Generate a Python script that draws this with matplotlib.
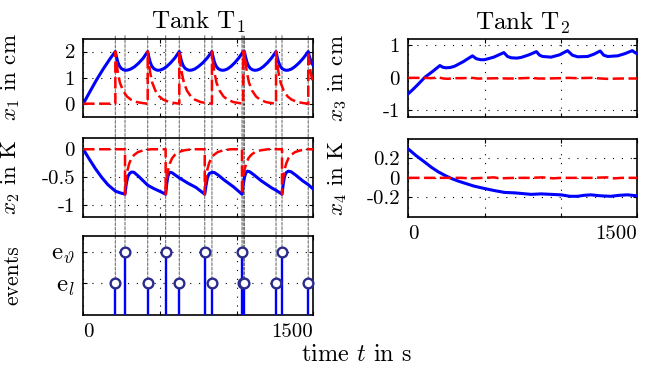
import matplotlib
matplotlib.use("Agg")
import matplotlib.pyplot as plt
from matplotlib.patches import ConnectionPatch

plt.rcParams['font.family'] = ['cmr10', 'DejaVu Serif']
plt.rcParams['mathtext.fontset'] = 'cm'
plt.rcParams['axes.unicode_minus'] = False
plt.rcParams['font.size'] = 15

# event times (s)
el_times = [209, 420, 626, 839, 1043, 1051, 1257, 1467]
eth_times = [272, 537, 792, 1035, 1296]

# tank 1, level x1 (blue) and its deviation (red)
x1_t = [0, 44, 87, 130, 174, 209,
        216, 225, 235, 248, 262, 275, 290, 310, 335, 360, 390, 420,
        427, 436, 446, 459, 473, 487, 502, 520, 545, 570, 598, 626,
        633, 642, 652, 665, 679, 693, 708, 727, 752, 778, 808, 839,
        846, 855, 865, 878, 892, 906, 921, 940, 963, 988, 1015, 1043, 1047, 1051,
        1058, 1067, 1077, 1090, 1104, 1118, 1133, 1152, 1176, 1201, 1229, 1257,
        1264, 1273, 1283, 1296, 1310, 1324, 1339, 1358, 1382, 1408, 1437, 1467,
        1474, 1485, 1500]
x1_v = [0, 0.47, 0.92, 1.33, 1.72, 2.0,
        1.80, 1.60, 1.45, 1.35, 1.30, 1.28, 1.29, 1.33, 1.42, 1.55, 1.74, 2.0,
        1.80, 1.60, 1.45, 1.35, 1.30, 1.28, 1.29, 1.33, 1.43, 1.57, 1.76, 2.0,
        1.80, 1.60, 1.45, 1.35, 1.30, 1.28, 1.29, 1.33, 1.43, 1.56, 1.75, 2.0,
        1.80, 1.60, 1.45, 1.35, 1.30, 1.28, 1.29, 1.33, 1.43, 1.57, 1.76, 2.0, 1.97, 2.0,
        1.80, 1.60, 1.45, 1.35, 1.30, 1.28, 1.29, 1.33, 1.43, 1.57, 1.76, 2.0,
        1.80, 1.60, 1.45, 1.35, 1.30, 1.28, 1.29, 1.33, 1.43, 1.57, 1.76, 2.0,
        1.82, 1.62, 1.46]

e1_t = [0, 209, 209, 215, 225, 239, 259, 284, 309, 349, 389, 420,
        420, 426, 436, 450, 470, 495, 520, 560, 600, 626,
        626, 632, 642, 656, 676, 701, 726, 766, 806, 839,
        839, 845, 855, 869, 889, 914, 939, 979, 1019, 1043,
        1043, 1047, 1051, 1051, 1057, 1067, 1081, 1101, 1126, 1151, 1191, 1231, 1257,
        1257, 1263, 1273, 1287, 1307, 1332, 1357, 1397, 1437, 1467,
        1467, 1473, 1483, 1497, 1500]
e1_v = [0, 0, 2.0, 1.65, 1.2, 0.8, 0.5, 0.28, 0.16, 0.06, 0.02, 0,
        2.0, 1.65, 1.2, 0.8, 0.5, 0.28, 0.16, 0.06, 0.02, 0,
        2.0, 1.65, 1.2, 0.8, 0.5, 0.28, 0.16, 0.06, 0.02, 0,
        2.0, 1.65, 1.2, 0.8, 0.5, 0.28, 0.16, 0.06, 0.02, 0,
        2.0, 1.75, 1.6, 2.0, 1.65, 1.2, 0.8, 0.5, 0.28, 0.16, 0.06, 0.02, 0,
        2.0, 1.65, 1.2, 0.8, 0.5, 0.28, 0.16, 0.06, 0.02, 0,
        2.0, 1.65, 1.2, 0.8, 0.74]

# tank 1, temperature x2
x2_t = [0, 40, 80, 120, 160, 209, 240, 272,
        280, 290, 302, 315, 330, 360, 390, 420, 460, 500, 537,
        544, 551, 558, 568, 580, 600, 626, 680, 735, 792,
        800, 810, 822, 840, 855, 880, 920, 980, 1035,
        1043, 1051, 1060, 1070, 1085, 1110, 1160, 1230, 1257, 1296,
        1304, 1312, 1322, 1337, 1355, 1390, 1430, 1467, 1500]
x2_v = [0, -0.18, -0.35, -0.50, -0.63, -0.745, -0.775, -0.80,
        -0.62, -0.49, -0.43, -0.405, -0.41, -0.48, -0.56, -0.64, -0.70, -0.75, -0.80,
        -0.62, -0.49, -0.43, -0.41, -0.42, -0.46, -0.51, -0.60, -0.68, -0.80,
        -0.65, -0.50, -0.43, -0.41, -0.415, -0.46, -0.55, -0.67, -0.80,
        -0.63, -0.50, -0.42, -0.39, -0.40, -0.45, -0.56, -0.69, -0.73, -0.80,
        -0.62, -0.49, -0.42, -0.39, -0.40, -0.47, -0.56, -0.63, -0.71]

e2_t = [0, 272, 272, 276, 282, 290, 300, 314, 332, 357, 392, 442, 537,
        537, 541, 547, 555, 565, 579, 597, 622, 657, 707, 792,
        792, 796, 802, 810, 820, 834, 852, 877, 912, 962, 1035,
        1035, 1039, 1045, 1053, 1063, 1077, 1095, 1120, 1155, 1205, 1296,
        1296, 1300, 1306, 1314, 1324, 1338, 1356, 1381, 1416, 1466, 1500]
e2_v = [0, 0, -0.80, -0.62, -0.47, -0.35, -0.25, -0.16, -0.10, -0.05, -0.02, 0, 0,
        -0.80, -0.62, -0.47, -0.35, -0.25, -0.16, -0.10, -0.05, -0.02, 0, 0,
        -0.80, -0.62, -0.47, -0.35, -0.25, -0.16, -0.10, -0.05, -0.02, 0, 0,
        -0.80, -0.62, -0.47, -0.35, -0.25, -0.16, -0.10, -0.05, -0.02, 0, 0,
        -0.80, -0.62, -0.47, -0.35, -0.25, -0.16, -0.10, -0.05, -0.02, 0, 0]

# tank 2, level x3
x3_t = [0, 30, 60, 109, 160, 207, 225, 245, 275, 304, 360, 420, 446, 475, 500,
        560, 626, 650, 674, 710, 739, 790, 839, 860, 880, 935, 990, 1043,
        1075, 1109, 1174, 1215, 1257, 1280, 1306, 1372, 1420, 1467, 1485, 1500]
x3_v = [-0.49, -0.36, -0.22, 0.02, 0.20, 0.38, 0.33, 0.31, 0.32, 0.36, 0.50, 0.68, 0.59, 0.56, 0.56,
        0.64, 0.78, 0.66, 0.62, 0.61, 0.63, 0.71, 0.81, 0.70, 0.66, 0.64, 0.71, 0.84,
        0.70, 0.65, 0.66, 0.73, 0.83, 0.70, 0.66, 0.68, 0.75, 0.84, 0.78, 0.74]
e3_t = [0, 100, 150, 200, 230, 260, 300, 350, 420, 450, 500, 600, 640, 700,
        800, 850, 900, 1000, 1050, 1100, 1200, 1260, 1300, 1400, 1500]
e3_v = [0.0, 0.0, -0.01, 0.01, -0.02, -0.03, -0.01, -0.01, 0.0, -0.02, -0.02, -0.01, -0.02, -0.02,
        0.0, -0.02, -0.02, -0.01, 0.0, -0.01, 0.0, -0.02, -0.03, -0.02, -0.02]

# tank 2, temperature x4
x4_t = [0, 50, 109, 150, 196, 240, 283, 330, 370, 430, 500, 560, 630, 700, 804,
        870, 935, 1000, 1060, 1109, 1150, 1196, 1260, 1326, 1380, 1435, 1500]
x4_v = [0.297, 0.23, 0.16, 0.11, 0.062, 0.025, -0.007, -0.035, -0.055, -0.085, -0.11, -0.13, -0.15, -0.155, -0.17,
        -0.165, -0.17, -0.175, -0.19, -0.19, -0.18, -0.175, -0.185, -0.19, -0.18, -0.175, -0.185]
e4_t = [0, 200, 283, 350, 400, 500, 560, 600, 700, 800, 880, 950, 1000, 1100, 1200, 1300, 1350, 1400, 1500]
e4_v = [0, 0, 0.0, 0, -0.005, 0.0, 0.005, -0.005, 0.0, 0.0, 0.005, -0.005, 0, 0, 0.0, 0.005, -0.005, 0.0, 0]

BLUE = '#0000ff'
RED = '#ff0000'
W, H = 661, 369

fig = plt.figure(figsize=(W / 100, H / 100), dpi=100)


def px_axes(x0, y0, x1, y1):
    return fig.add_axes([x0 / W, 1 - y1 / H, (x1 - x0) / W, (y1 - y0) / H])


ax1 = px_axes(83.3, 38.5, 313.3, 116.7)
ax2 = px_axes(83.3, 138, 313.3, 216.7)
ax3 = px_axes(83.3, 236, 313.3, 315)
ax4 = px_axes(408.3, 39, 637.3, 116.7)
ax5 = px_axes(408.3, 139, 637.3, 216.7)

dash = (0, (4.5, 1.8))
for ax, bt, bv, rt, rv in [(ax1, x1_t, x1_v, e1_t, e1_v), (ax2, x2_t, x2_v, e2_t, e2_v),
                           (ax4, x3_t, x3_v, e3_t, e3_v), (ax5, x4_t, x4_v, e4_t, e4_v)]:
    ax.plot(bt, bv, color=BLUE, lw=2.2, zorder=3)
    ax.plot(rt, rv, color=RED, lw=1.8, ls=dash, zorder=4)

# events stem plot
ax3.vlines(el_times, 0, 1, color=BLUE, lw=1.7, zorder=3)
ax3.vlines(eth_times, 0, 2, color=BLUE, lw=1.7, zorder=3)
ax3.plot(el_times, [1] * len(el_times), 'o', ms=7, mfc='white', mec='#2b2b8c', mew=1.7, zorder=5, clip_on=False)
ax3.plot(eth_times, [2] * len(eth_times), 'o', ms=7, mfc='white', mec='#2b2b8c', mew=1.7, zorder=5, clip_on=False)

# gray event markers through the left column
for times, lev in [(el_times, 1), (eth_times, 2)]:
    for t in times:
        cp = ConnectionPatch(xyA=(t, lev), coordsA=ax3.transData,
                             xyB=(t, 1.045), coordsB=ax1.get_xaxis_transform(),
                             color='0.45', lw=0.8, ls=(0, (2.5, 1.5)), zorder=-1)
        fig.add_artist(cp)

ax1.set_ylim(-0.5, 2.5)
ax1.set_yticks([0, 1, 2])
ax1.set_yticklabels(['0', '1', '2'])
ax2.set_ylim(-1.2, 0.2)
ax2.set_yticks([-1, -0.5, 0])
ax2.set_yticklabels(['-1', '-0.5', '0'])
ax3.set_ylim(0, 2.5)
ax3.set_yticks([1, 2])
ax3.set_yticklabels([r'$\mathrm{e}_l$', r'$\mathrm{e}_\vartheta$'], fontsize=18)
ax4.set_ylim(-1.2, 1.2)
ax4.set_yticks([-1, 0, 1])
ax4.set_yticklabels(['-1', '0', '1'])
ax5.set_ylim(-0.4, 0.4)
ax5.set_yticks([-0.2, 0, 0.2])
ax5.set_yticklabels(['-0.2', '0', '0.2'])

for ax in [ax1, ax2, ax3, ax4, ax5]:
    ax.set_xlim(0, 1500)
    ax.set_xticks([0, 500, 1000, 1500])
    ax.grid(True, color='black', lw=0.8, ls=(0, (1, 7)))
    ax.tick_params(direction='in', top=True, right=True, length=3, width=0.8, pad=6)
    for s in ax.spines.values():
        s.set_linewidth(1.2)
    ax.patch.set_visible(False)

for ax in [ax1, ax2, ax4]:
    ax.tick_params(labelbottom=False)
for ax in [ax3, ax5]:
    ax.set_xticklabels(['0', '', '', '1500'])
    labs = ax.get_xticklabels()
    labs[0].set_ha('left')
    labs[3].set_ha('right')

ax1.set_title(r'Tank $\mathrm{T}_1$', pad=7)
ax4.set_title(r'Tank $\mathrm{T}_2$', pad=7)
ax1.set_ylabel(r'$x_1$ in cm', fontsize=16.5)
ax2.set_ylabel(r'$x_2$ in K', fontsize=16.5)
ax3.set_ylabel('events', fontsize=15.5)
ax4.set_ylabel(r'$x_3$ in cm', fontsize=16.5)
ax5.set_ylabel(r'$x_4$ in K', fontsize=16.5)
for ax in [ax1, ax2, ax3]:
    ax.yaxis.set_label_coords(-0.265, 0.5)
for ax in [ax4, ax5]:
    ax.yaxis.set_label_coords(-0.26, 0.5)

fig.text(357 / W, 1 - 355 / H, r'time $t$ in s', ha='center', va='center', fontsize=17.5)

fig.savefig('out.png', dpi=100)
